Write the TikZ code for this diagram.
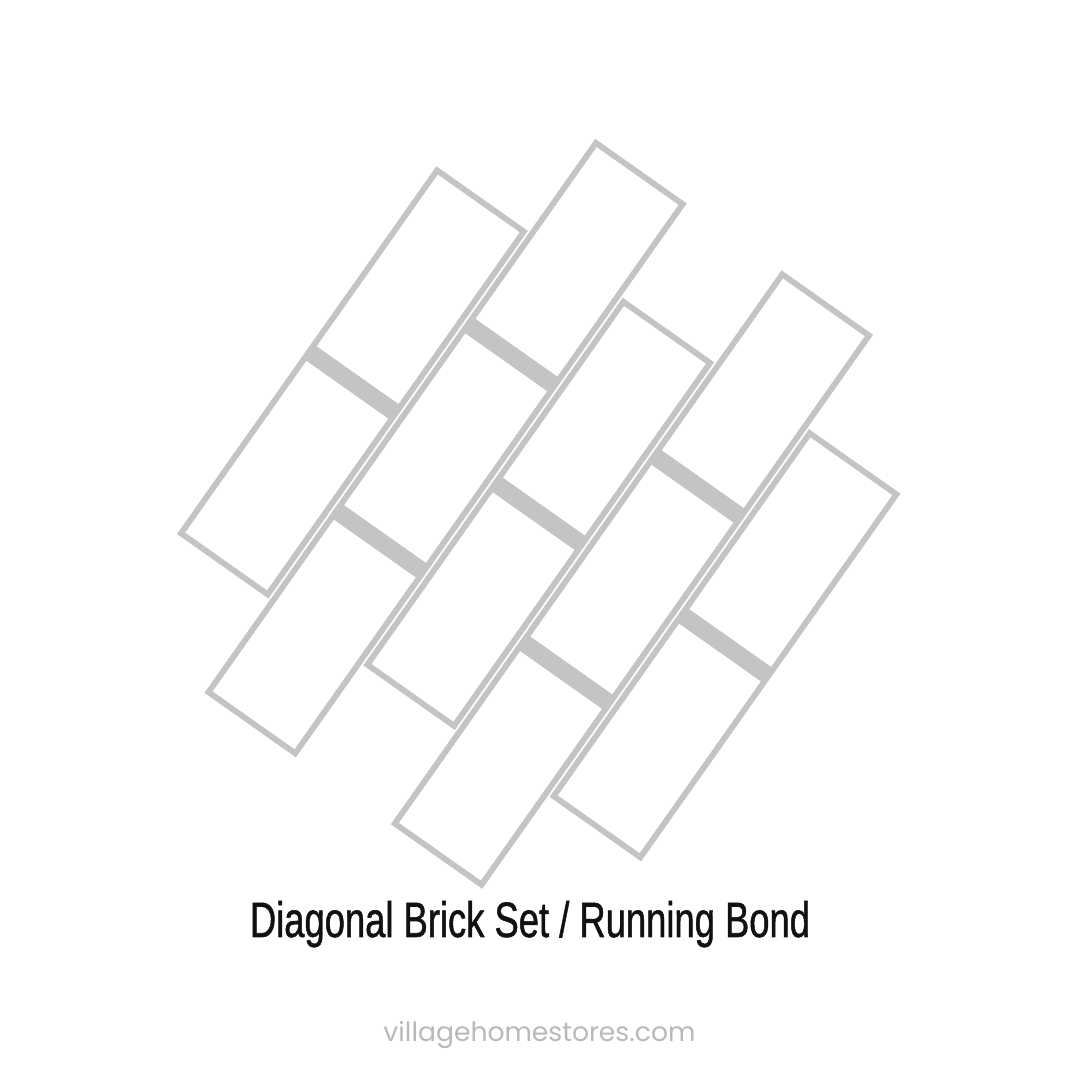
\documentclass[tikz,border=0pt]{standalone}
\usepackage{graphicx}
\usepackage{fontspec}
\newfontfamily\titlefont[FakeBold=1.2]{Liberation Sans}
\newfontfamily\urlfont{Poppins}
\definecolor{brickgray}{RGB}{196,196,196}
\definecolor{urlgray}{RGB}{185,185,185}
\definecolor{titleblack}{RGB}{17,17,17}
\begin{document}
\begin{tikzpicture}[x=1pt,y=1pt]
\useasboundingbox[fill=white] (0,0) rectangle (1080,1080);
% rotated frame: first axis along the long side of the bricks, second across
\begin{scope}[cm={0.5764,0.8171,0.8171,-0.5764,(177pt,546pt)}]
  \foreach \tpos/\spos/\nb in {0/0/2, 114/-114/3, 228/0/2, 342/-114/3, 456/0/2} {
    \fill[brickgray] (\spos,\tpos) rectangle ({\spos+228*\nb-6},{\tpos+112});
    \foreach \k in {1,...,\nb} {
      \fill[white] ({\spos+228*(\k-1)+6},{\tpos+6}) rectangle ({\spos+228*(\k-1)+216},{\tpos+106});
    }
  }
\end{scope}
\node[anchor=base, inner sep=0, text=titleblack] (title) at (530,143)
  {\resizebox{560pt}{36pt}{\titlefont Diagonal Brick Set / Running Bond}};
\node[anchor=base, inner sep=0, text=urlgray] (url) at (539.5,38.3)
  {\resizebox{312pt}{!}{\urlfont villagehomestores.com}};
\end{tikzpicture}
\end{document}
